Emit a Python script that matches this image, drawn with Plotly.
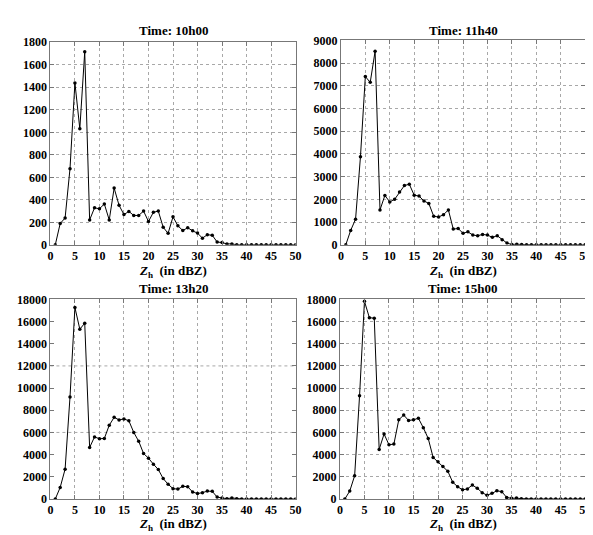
import plotly.graph_objects as go

zh = list(range(1, 51))

titles = ["Time: 10h00", "Time: 11h40", "Time: 13h20", "Time: 15h00"]

counts_10h00 = [0, 190, 238, 677, 1439, 1031, 1715, 221, 329, 320,
                363, 221, 504, 351, 269, 297, 261, 261, 300, 207,
                289, 300, 156, 102, 249, 169, 127, 152, 124, 104,
                59, 90, 85, 25, 20, 8, 8, 0, 0, 0,
                0, 0, 0, 0, 0, 0, 0, 0, 0, 0]
counts_11h40 = [0, 635, 1128, 3880, 7405, 7150, 8520, 1537, 2172, 1890,
                2003, 2327, 2609, 2666, 2186, 2144, 1932, 1820, 1255, 1227,
                1326, 1537, 691, 719, 508, 570, 430, 400, 457, 430,
                330, 400, 220, 75, 10, 30, 10, 0, 0, 0,
                0, 0, 0, 0, 0, 0, 0, 0, 0, 0]
counts_13h20 = [0, 1047, 2690, 9200, 17270, 15310, 15850, 4640, 5600, 5430,
                5460, 6650, 7360, 7130, 7220, 7050, 6000, 5210, 4100, 3680,
                3140, 2660, 1840, 1330, 934, 890, 1140, 1110, 630, 490,
                570, 710, 690, 170, 90, 30, 90, 30, 0, 0,
                0, 0, 0, 0, 0, 0, 0, 0, 0, 0]
counts_15h00 = [0, 710, 2100, 9300, 17830, 16350, 16300, 4470, 5860, 4890,
                4950, 7140, 7570, 7080, 7140, 7280, 6430, 5460, 3750, 3360,
                2930, 2500, 1510, 1110, 825, 910, 1260, 970, 570, 340,
                510, 740, 660, 140, 60, 80, 30, 0, 0, 0,
                0, 0, 0, 0, 0, 0, 0, 0, 0, 0]

series = [counts_10h00, counts_11h40, counts_13h20, counts_15h00]
y_ranges = [(0, 1800, 200), (0, 9000, 1000), (0, 18000, 2000), (0, 18000, 2000)]
x_ticks = list(range(0, 55, 5))

W, H = 593, 535
# plot boxes in pixels (left, right, top, bottom)
boxes = [(40, 289, 28, 236), (335, 583, 26, 236), (40, 289, 292, 497), (334, 583, 292, 497)]
title_y = [16, 16, 281, 281]
xlabel_bottom = [274, 274, 534, 534]

FONT = "Liberation Serif"

fig = go.Figure()
annotations = []
shapes = []
for i, (vals, box) in enumerate(zip(series, boxes)):
    n = i + 1
    xa = "x" if n == 1 else f"x{n}"
    ya = "y" if n == 1 else f"y{n}"
    fig.add_trace(go.Scatter(
        x=zh, y=vals, mode="lines+markers", xaxis=xa, yaxis=ya,
        line=dict(color="black", width=1),
        marker=dict(color="black", size=3.5), showlegend=False))
    l, r, t, b = box
    ymin, ymax, dy = y_ranges[i]
    yt = list(range(ymin, ymax + 1, dy))
    show_ygrid = (i != 2)
    axis_common = dict(
        showline=True, linecolor="#777777", linewidth=1, mirror="ticks",
        ticks="inside", ticklen=4, tickcolor="#777777",
        gridcolor="#a8a8a8", griddash="dot", gridwidth=1,
        zeroline=False,
        tickfont=dict(family=FONT, size=12, color="black", weight="bold"),
    )
    fig.layout[f"xaxis{'' if n == 1 else n}"] = dict(
        axis_common, domain=[l / W, r / W], anchor=ya, range=[0, 50],
        tickvals=x_ticks, ticktext=[f"<b>{v}</b>" for v in x_ticks],
        showgrid=True)
    fig.layout[f"yaxis{'' if n == 1 else n}"] = dict(
        axis_common, domain=[1 - b / H, 1 - t / H], anchor=xa,
        range=[ymin, ymax], tickvals=yt, ticktext=[f"<b>{v}</b>" for v in yt],
        showgrid=show_ygrid)
    if not show_ygrid:
        for gy in (6000, 12000):
            shapes.append(dict(type="line", xref=f"{xa} domain", yref=ya,
                               x0=0, x1=1, y0=gy, y1=gy,
                               line=dict(color="#a8a8a8", width=1, dash="dot"),
                               layer="below"))
    cx = (l + r) / 2 / W
    annotations.append(dict(
        text="<b>" + titles[i] + "</b>", x=cx, y=1 - title_y[i] / H,
        xref="paper", yref="paper",
        showarrow=False, xanchor="center", yanchor="middle",
        font=dict(family=FONT, size=13, color="black")))
    annotations.append(dict(
        text="<b><i>Z</i><sub>h</sub>  (in dBZ)</b>", x=cx,
        y=1 - xlabel_bottom[i] / H,
        xref="paper", yref="paper", showarrow=False, xanchor="center",
        yanchor="bottom",
        font=dict(family=FONT, size=13, color="black")))

fig.update_layout(
    width=W, height=H, margin=dict(l=0, r=0, t=0, b=0),
    paper_bgcolor="white", plot_bgcolor="white",
    annotations=annotations, shapes=shapes)

fig.write_html("out.html")
